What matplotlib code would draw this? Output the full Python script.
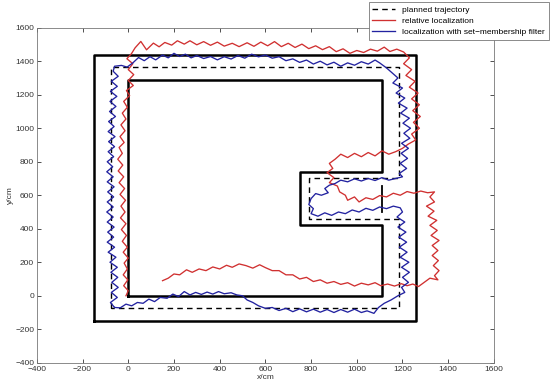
import matplotlib
matplotlib.use("Agg")
import matplotlib.pyplot as plt

# walls of the corridor (cm)
outer_wall_x = [-150, -150, 1260, 1260, -150]
outer_wall_y = [-150, 1440, 1440, -150, -150]
inner_wall_x = [0, 0, 1110, 1110, 750, 750, 1110, 1110, 0]
inner_wall_y = [0, 1290, 1290, 740, 740, 420, 420, 0, 0]
obstacle_x = [1110, 1110]
obstacle_y = [500, 655]

# planned trajectory
plan_x = [-75, -75, 1185, 1185, 790, 790, 1185, 1185, -75]
plan_y = [-75, 1365, 1365, 700, 700, 460, 460, -75, -75]

# relative localization
red_pts = [
    (-10, 0), (0, 30), (-20, 60), (-2, 95), (-22, 125), (-4, 160), (-18, 195), (0, 225),
    (-22, 260), (-4, 290), (-26, 325), (-8, 360), (-30, 395), (-10, 430), (-34, 465),
    (-14, 500), (-32, 535), (-12, 570), (-36, 605), (-16, 640), (-40, 675), (-20, 710),
    (-44, 745), (-24, 780), (-46, 815), (-26, 850), (-40, 885), (-18, 915), (-36, 950),
    (-14, 985), (-32, 1020), (-10, 1055), (-26, 1090), (-4, 1125), (-20, 1160), (6, 1195),
    (-8, 1225), (22, 1255), (0, 1285), (24, 1320), (0, 1350), (20, 1385), (-6, 1415), (14, 1445),
    (30, 1480), (55, 1518), (80, 1468), (110, 1508), (135, 1486), (160, 1512), (190, 1496),
    (215, 1522), (245, 1502), (270, 1522), (300, 1498), (330, 1517), (360, 1495), (390, 1514),
    (420, 1490), (455, 1507), (485, 1487), (520, 1510), (550, 1489), (580, 1514), (610, 1492),
    (640, 1517), (670, 1487), (700, 1507), (730, 1482), (760, 1502), (790, 1475), (820, 1492),
    (850, 1469), (880, 1487), (910, 1457), (940, 1474), (970, 1447), (1000, 1464), (1030, 1452),
    (1060, 1472), (1090, 1460), (1120, 1484), (1145, 1458), (1175, 1472), (1205, 1455),
    (1230, 1420), (1205, 1385), (1240, 1350), (1215, 1315), (1255, 1280), (1230, 1245),
    (1268, 1210), (1240, 1175), (1274, 1140), (1245, 1105), (1278, 1070), (1248, 1035),
    (1274, 1000), (1240, 965), (1258, 930), (1225, 905),
    (1200, 880), (1170, 860), (1140, 845), (1110, 865), (1080, 835), (1050, 855), (1020, 830),
    (990, 850), (960, 825), (930, 845), (905, 815), (880, 790), (895, 760), (870, 735),
    (900, 705), (880, 675), (915, 655), (925, 620), (950, 600), (960, 570), (990, 590),
    (1010, 560), (1040, 585), (1070, 575), (1100, 598), (1130, 590), (1160, 612), (1190, 600),
    (1220, 622), (1250, 612), (1280, 625), (1310, 615), (1340, 620),
    (1320, 590), (1340, 560), (1305, 535), (1338, 505), (1312, 475), (1350, 450), (1320, 420),
    (1352, 390), (1325, 360), (1360, 330), (1330, 300), (1355, 270), (1330, 240), (1357, 210),
    (1335, 180), (1360, 150), (1340, 120), (1355, 95),
    (1320, 105), (1295, 80), (1270, 55), (1245, 70), (1220, 60), (1195, 72), (1165, 58),
    (1135, 70), (1105, 60), (1080, 78), (1050, 65), (1020, 75), (990, 58), (960, 78),
    (930, 68), (900, 85), (870, 75), (840, 95), (810, 85), (780, 110), (750, 100), (720, 125),
    (690, 125), (660, 150), (630, 150), (600, 168), (575, 185), (545, 165), (515, 180),
    (485, 190), (455, 170), (430, 182), (400, 160), (370, 172), (340, 150), (310, 160),
    (280, 140), (255, 155), (225, 125), (200, 130), (175, 105), (150, 90),
]

# localization with set-membership filter
blue_pts = [
    (-60, -70), (-78, -40), (-48, -10), (-74, 20), (-44, 50), (-72, 80), (-46, 110), (-76, 140),
    (-48, 170), (-80, 200), (-54, 230), (-88, 260), (-60, 290), (-92, 320), (-64, 350),
    (-90, 380), (-62, 410), (-92, 440), (-66, 470), (-94, 500), (-66, 530), (-92, 560),
    (-64, 590), (-90, 620), (-62, 650), (-92, 680), (-66, 710), (-94, 740), (-68, 770),
    (-92, 800), (-64, 830), (-88, 860), (-60, 890), (-86, 920), (-58, 950), (-88, 980),
    (-62, 1010), (-86, 1040), (-56, 1070), (-82, 1100), (-54, 1130), (-80, 1160), (-50, 1190),
    (-78, 1220), (-48, 1250), (-74, 1280), (-44, 1310), (-66, 1340), (-60, 1370), (-30, 1375),
    (-5, 1365),
    (20, 1390), (45, 1422), (70, 1403), (95, 1427), (120, 1408), (150, 1437), (175, 1420),
    (200, 1447), (225, 1428), (250, 1442), (275, 1420), (300, 1434), (330, 1416), (360, 1428),
    (390, 1408), (420, 1427), (450, 1413), (480, 1434), (510, 1418), (540, 1442), (570, 1426),
    (600, 1437), (630, 1418), (660, 1427), (690, 1403), (720, 1414), (750, 1393), (780, 1407),
    (810, 1383), (840, 1400), (870, 1378), (900, 1394), (930, 1370), (960, 1390), (990, 1376),
    (1020, 1397), (1050, 1383), (1080, 1407), (1100, 1390),
    (1130, 1360), (1155, 1330), (1180, 1300), (1158, 1270), (1200, 1240), (1172, 1210),
    (1210, 1180), (1182, 1150), (1220, 1120), (1192, 1090), (1230, 1060), (1202, 1030),
    (1235, 1000), (1206, 970), (1232, 940), (1196, 910), (1226, 880), (1194, 850), (1222, 820),
    (1190, 790), (1218, 760), (1186, 730), (1200, 710),
    (1170, 700), (1140, 690), (1110, 705), (1080, 688), (1050, 700), (1020, 685), (990, 698),
    (960, 680), (930, 690), (905, 670), (880, 660), (860, 640), (875, 615), (845, 600),
    (820, 610), (800, 580), (790, 545), (810, 520), (800, 490), (830, 475), (860, 495),
    (890, 480), (920, 500), (950, 490), (980, 512), (1010, 500), (1040, 522), (1070, 510),
    (1100, 530), (1130, 520), (1160, 535), (1190, 525),
    (1200, 500), (1176, 470), (1210, 440), (1180, 410), (1215, 380), (1184, 350), (1218, 320),
    (1186, 290), (1220, 260), (1190, 230), (1228, 200), (1196, 170), (1230, 140), (1200, 110),
    (1226, 80), (1196, 50), (1210, 20),
    (1180, 0), (1150, -25), (1120, -45), (1095, -70), (1075, -105), (1045, -90), (1020, -100),
    (990, -80), (960, -98), (930, -82), (900, -100), (870, -82), (840, -98), (810, -80),
    (780, -96), (750, -78), (720, -95), (690, -75), (660, -88), (630, -70), (600, -75),
    (570, -60), (545, -40), (520, -25), (500, 0), (475, 5), (450, 18), (420, 12), (395, 25),
    (370, 10), (345, 22), (320, 8), (295, 20), (270, 5), (245, 25), (220, -5), (195, 10),
    (170, -15), (140, -10), (115, -35), (90, -20), (65, -45), (40, -40), (15, -60), (-10, -50),
    (-35, -72), (-60, -70),
]

red_x = [p[0] for p in red_pts]
red_y = [p[1] for p in red_pts]
blue_x = [p[0] for p in blue_pts]
blue_y = [p[1] for p in blue_pts]

plt.rcParams['font.family'] = ['Liberation Sans', 'DejaVu Sans']

fig = plt.figure(figsize=(5.5, 3.88), dpi=100)
ax = fig.add_axes([0.067, 0.065, 0.831, 0.8636])

ax.plot(outer_wall_x, outer_wall_y, color='black', lw=1.8)
ax.plot(inner_wall_x, inner_wall_y, color='black', lw=1.8)
ax.plot(obstacle_x, obstacle_y, color='black', lw=1.3)

h1, = ax.plot(plan_x, plan_y, color='black', lw=1.0, ls=(0, (4, 3)), label='planned trajectory')
h2, = ax.plot(red_x, red_y, color='#d03030', lw=0.95, label='relative localization')
h3, = ax.plot(blue_x, blue_y, color='#2222a0', lw=0.95, label='localization with set\u2212membership filter')

ax.set_xlim(-400, 1600)
ax.set_ylim(-400, 1600)
ax.set_xticks(range(-400, 1601, 200))
ax.set_yticks(range(-400, 1601, 200))
ax.tick_params(direction='in', top=True, right=True, length=3, width=0.6,
               labelsize=6, colors='#333333', pad=2)
for s in ax.spines.values():
    s.set_color('#777777')
    s.set_linewidth(0.6)

ax.set_xlabel('x/cm', fontsize=6, color='#333333', labelpad=1)
ax.set_ylabel('y/cm', fontsize=6, color='#333333', labelpad=1)

leg = fig.legend(handles=[h1, h2, h3], loc='upper right', bbox_to_anchor=(0.998, 0.994),
                 fontsize=6, frameon=True, fancybox=False, framealpha=1,
                 edgecolor='#777777', borderpad=0.45, handlelength=2.7,
                 labelspacing=0.4, handletextpad=0.9, borderaxespad=0)
leg.get_frame().set_linewidth(0.6)

fig.savefig('out.png', dpi=100)
